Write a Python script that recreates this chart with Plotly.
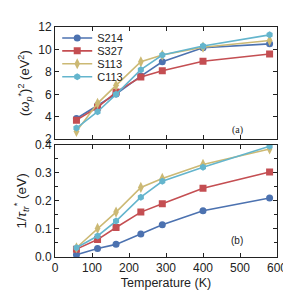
import plotly.graph_objects as go
from plotly.subplots import make_subplots

temps = [58, 115, 165, 232, 290, 400, 580]
series = ["S214", "S327", "S113", "C113"]
omega2 = {
    "S214": [3.85, 5.03, 6.03, 7.63, 8.9, 10.15, 10.5],
    "S327": [3.7, 4.85, 6.2, 7.55, 8.1, 8.95, 9.6],
    "S113": [2.7, 5.2, 6.8, 8.9, 9.5, 10.2, 10.8],
    "C113": [3.0, 4.45, 6.0, 8.2, 9.5, 10.3, 11.3],
}
inv_tau = {
    "S214": [0.008, 0.03, 0.045, 0.082, 0.115, 0.165, 0.21],
    "S327": [0.028, 0.062, 0.105, 0.16, 0.19, 0.245, 0.303],
    "S113": [0.033, 0.102, 0.16, 0.248, 0.28, 0.33, 0.385],
    "C113": [0.033, 0.075, 0.128, 0.213, 0.27, 0.32, 0.395],
}
colors = {"S214": "#4c72b0", "S327": "#c44e52", "S113": "#ccb974", "C113": "#64b5cd"}
symbols = {"S214": "circle", "S327": "square", "S113": "diamond-tall", "C113": "hexagon"}
sizes = {"S214": 7, "S327": 7, "S113": 8, "C113": 7}
legend_names = ["legend", "legend2", "legend3", "legend4"]

fig = make_subplots(rows=2, cols=1, shared_xaxes=True, vertical_spacing=0.024)
for i, s in enumerate(series):
    fig.add_trace(go.Scatter(x=temps, y=omega2[s], name=s, mode="lines+markers",
                             legend=legend_names[i],
                             line=dict(color=colors[s], width=1.6),
                             marker=dict(symbol=symbols[s], size=sizes[s], color=colors[s])),
                  row=1, col=1)
for s in series:
    fig.add_trace(go.Scatter(x=temps, y=inv_tau[s], name=s, mode="lines+markers", showlegend=False,
                             line=dict(color=colors[s], width=1.6),
                             marker=dict(symbol=symbols[s], size=sizes[s], color=colors[s])),
                  row=2, col=1)

axcommon = dict(showline=True, linecolor="#222", linewidth=1, mirror="ticks", ticks="inside",
                ticklen=4, tickcolor="#222", showgrid=False, zeroline=False)
fig.update_xaxes(range=[0, 600], dtick=100, **axcommon)
fig.update_xaxes(showticklabels=False, row=1, col=1)
fig.update_xaxes(title=dict(text="Temperature (K)", standoff=3, font=dict(size=12.5)), row=2, col=1)
fig.update_yaxes(range=[2, 12], dtick=2, title=dict(
    text="(<i>ω</i><sub><i>p</i></sub><sup>*</sup>)<sup>2</sup> (eV<sup>2</sup>)", standoff=5,
    font=dict(size=13)),
    row=1, col=1, **axcommon)
fig.update_yaxes(range=[0, 0.4], dtick=0.1, tickformat=".1f",
                 minor=dict(dtick=0.05, ticks="inside", ticklen=3, tickcolor="#222"),
                 title=dict(text="1/<i>τ</i><sub><i>tr</i></sub><sup>*</sup> (eV)", standoff=5,
                            font=dict(size=13.5)),
                 row=2, col=1, **axcommon)

fig.add_annotation(text="(a)", x=0.854, y=0.553, xref="paper", yref="paper", showarrow=False,
                   font=dict(size=10, family="Liberation Serif"))
fig.add_annotation(text="(b)", x=0.854, y=0.041, xref="paper", yref="paper", showarrow=False,
                   font=dict(size=10))

# legend entry centres (pixels from top)
leg_y_px = [25.7, 39.3, 53.0, 66.7]
legends = {}
for name, py in zip(legend_names, leg_y_px):
    legends[name] = dict(x=0.01, y=(258 - py) / 244, xanchor="left", yanchor="middle",
                         bgcolor="rgba(0,0,0,0)", font=dict(size=11), itemwidth=30,
                         borderwidth=0)

fig.update_layout(width=291, height=291, margin=dict(l=43, r=15, t=14, b=33),
                  paper_bgcolor="white", plot_bgcolor="white",
                  font=dict(family="Liberation Sans", size=12, color="#222"),
                  **legends)
fig.write_html("out.html")
